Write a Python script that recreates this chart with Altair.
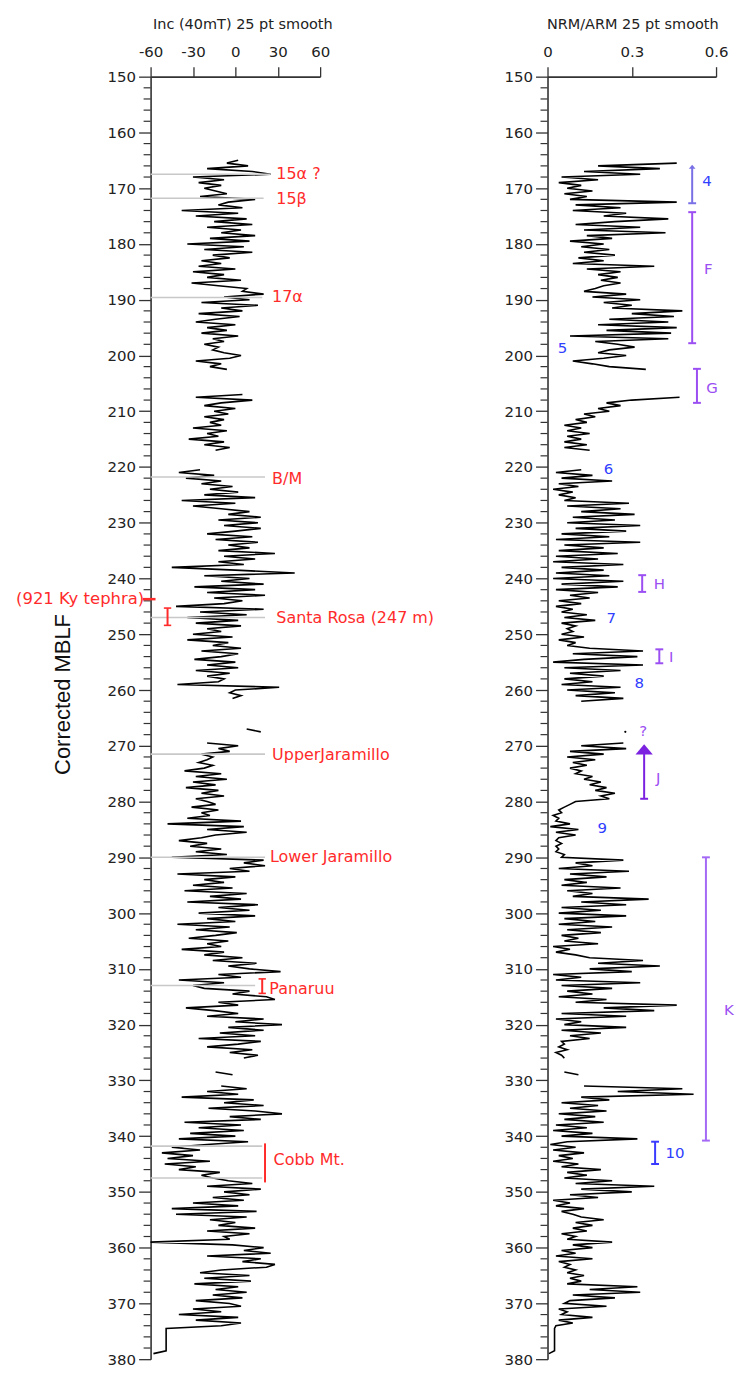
import altair as alt
import pandas as pd

FONT = "DejaVu Sans"
RED = "#ff2b2b"
BLUE = "#2f40ff"
PURPLE = "#9b4ff2"
STEP = 0.5  # sampling interval (m) inside each continuous core run

# ---------------- Inclination (40 mT), 25 pt smooth ----------------
inc_run_tops = [165.0, 207.0, 220.5, 267.0, 269.5, 328.5, 331.0]
inc_run_a = [2, -6, 9, -20, 12, 25, -30, -8, -26, -10,
             -22, -14, -6, -25, 14, -5, -12, 5, -38, 2,
             -28, 8, -15, 12, -20, 4, -10, 14, -18, 10,
             -34, 6, -22, 12, -16, -4, -24, -10, -26, 0,
             -30, -8, -20, 4, -31, -12, 8, 5, 20, -8,
             10, -24, 16, -10, 5, -26, 3, -14, -28, 0,
             -20, -6, -24, 2, -16, -8, -22, -12, -16, -8,
             4, -4, -28, -10, -18, -6]
inc_run_b = [5, -28, 12, -10, -22, 0, -15, -5, -22, -8, -18, -10, -30, -6,
             -20, -12, -33, -8, -22, -4, -14]
inc_run_c = [-25, -40, -15, -35, -10, -24, -2, -18, 2, -22,
             14, -38, 0, -30, -10, 10, -5, 18, -12, 16,
             -8, 18, 0, -20, 12, -14, 16, -5, 10, -12,
             28, -8, 14, -12, 6, -45, 0, 42, -22, 10,
             -10, 20, -29, 14, -20, 21, -15, 5, -8, -42,
             20, -25, 8, -34, 2, -28, 4, -20, -10, -30,
             -2, -34, -5, -16, 4, -24, 2, -10, -29, 0,
             -20, 2, -28, -4, -20, -8, -12, -41, 31, 0,
             -4, 4, -2]
inc_run_d = [8, 18]
inc_run_e = [-20, 2, -12, -4, -24, -16, -20, -26, -16, -22,
             -36, -10, -28, -6, -30, -14, -35, -12, -24, -8,
             -28, -20, -14, -31, -12, -24, -18, -34, 4, -48,
             6, -20, 8, -14, -24, -40, -20, -32, -10, -28,
             -6, -45, 20, 6, 21, -4, 10, -41, 0, -22,
             -8, -30, -2, -36, 8, -18, 4, -34, 16, -12,
             10, -26, 14, -20, 0, -41, -4, -28, 1, -14,
             -33, -5, -20, -10, -38, -8, -22, 5, -16, 15,
             -5, 10, 32, -12, 4, -40, -8, -30, -22, 10,
             -2, 22, 28, -12, 2, -35, -15, 2, -20, 20,
             0, 33, -5, 20, -11, 14, -26, 18, 2, -20,
             12, -4, 16, 6]
inc_run_f = [-14, -2]
inc_run_g = [-10, 8, -20, 2, -38, 13, -8, 20, -19, 14,
             33, -4, 18, -36, 4, -26, 6, -32, 0, -40,
             9, -20, -45, -25, -52, -30, -48, -18, -50, -28,
             -40, -11, -24, -16, -5, 12, -20, 18, -8, 10,
             -16, 6, -30, 2, -45, 15, -42, 8, -18, 0,
             -12, 14, -20, 10, -8, -4, -60, -2, 20, 6,
             25, -20, 18, 5, 28, 22, -10, -25, 10, -22,
             11, -29, 2, -14, 8, -16, 5, -28, -4, 4,
             -30, -10, -40, 2, -28, 4, -10, -49, -49, -49,
             -49, -49, -49, -49, -49, -49, -58]
inc_runs = [inc_run_a, inc_run_b, inc_run_c, inc_run_d, inc_run_e, inc_run_f, inc_run_g]

# ---------------- NRM/ARM, 25 pt smooth ----------------
nrm_run_tops = [165.5, 207.5, 220.5, 269.5, 328.5, 331.0]
nrm_run_a = [0.46, 0.18, 0.40, 0.13, 0.33, 0.05, 0.18, 0.04, 0.12, 0.07,
             0.16, 0.06, 0.14, 0.08, 0.46, 0.10, 0.26, 0.09, 0.28, 0.20,
             0.43, 0.24, 0.10, 0.33, 0.13, 0.42, 0.14, 0.23, 0.08, 0.20,
             0.12, 0.22, 0.13, 0.24, 0.11, 0.20, 0.09, 0.38, 0.14, 0.26,
             0.18, 0.25, 0.19, 0.26, 0.20, 0.17, 0.13, 0.28, 0.16, 0.33,
             0.20, 0.30, 0.23, 0.48, 0.30, 0.45, 0.22, 0.43, 0.18, 0.46,
             0.21, 0.44, 0.08, 0.43, 0.17, 0.25, 0.31, 0.22, 0.18, 0.28,
             0.20, 0.09, 0.16, 0.22, 0.35]
nrm_run_b = [0.47, 0.30, 0.21, 0.26, 0.18, 0.22, 0.13, 0.17, 0.10, 0.14,
             0.06, 0.12, 0.07, 0.15, 0.07, 0.12, 0.06, 0.14, 0.06, 0.15]
nrm_run_c = [0.12, 0.03, 0.16, 0.05, 0.23, 0.04, 0.11, 0.02, 0.09, 0.04,
             0.10, 0.06, 0.29, 0.07, 0.26, 0.12, 0.31, 0.09, 0.24, 0.07,
             0.33, 0.10, 0.28, 0.05, 0.22, 0.03, 0.33, 0.06, 0.20, 0.04,
             0.25, 0.03, 0.18, 0.02, 0.27, 0.05, 0.20, 0.03, 0.22, 0.02,
             0.27, 0.05, 0.25, 0.03, 0.18, 0.08, 0.15, 0.04, 0.12, 0.03,
             0.09, 0.05, 0.14, 0.06, 0.17, 0.05, 0.10, 0.07, 0.09, 0.05,
             0.13, 0.04, 0.10, 0.07, 0.15, 0.34, 0.09, 0.32, 0.13, 0.02,
             0.34, 0.06, 0.26, 0.08, 0.20, 0.06, 0.16, 0.05, 0.26, 0.07,
             0.24, 0.10, 0.27, 0.12]
nrm_run_e = [0.27, 0.12, 0.28, 0.08, 0.20, 0.07, 0.17, 0.09, 0.14, 0.08,
             0.12, 0.10, 0.16, 0.13, 0.19, 0.15, 0.21, 0.17, 0.24, 0.19,
             0.22, 0.10, 0.08, 0.06, 0.04, 0.05, 0.02, 0.04, 0.03, 0.08,
             0.01, 0.11, 0.03, 0.10, 0.04, 0.03, 0.05, 0.03, 0.04, 0.03,
             0.06, 0.05, 0.27, 0.10, 0.16, 0.04, 0.29, 0.08, 0.21, 0.06,
             0.14, 0.05, 0.26, 0.07, 0.16, 0.09, 0.36, 0.12, 0.28, 0.05,
             0.19, 0.04, 0.28, 0.06, 0.17, 0.04, 0.23, 0.07, 0.19, 0.05,
             0.11, 0.06, 0.18, 0.02, 0.08, 0.03, 0.10, 0.15, 0.34, 0.18,
             0.40, 0.15, 0.30, 0.02, 0.12, 0.03, 0.33, 0.05, 0.23, 0.07,
             0.16, 0.04, 0.21, 0.10, 0.46, 0.20, 0.38, 0.05, 0.28, 0.03,
             0.12, 0.06, 0.28, 0.05, 0.19, 0.08, 0.15, 0.05, 0.06, 0.04,
             0.07, 0.03, 0.05, 0.06]
nrm_run_f = [0.06, 0.11]
nrm_run_g = [0.13, 0.48, 0.25, 0.52, 0.12, 0.22, 0.05, 0.18, 0.08, 0.21,
             0.04, 0.17, 0.06, 0.20, 0.03, 0.14, 0.02, 0.16, 0.05, 0.32,
             0.07, 0.01, 0.10, 0.02, 0.13, 0.04, 0.09, 0.02, 0.11, 0.05,
             0.19, 0.07, 0.14, 0.06, 0.23, 0.10, 0.38, 0.12, 0.30, 0.08,
             0.18, 0.02, 0.08, 0.03, 0.13, 0.05, 0.09, 0.12, 0.20, 0.10,
             0.16, 0.09, 0.14, 0.05, 0.10, 0.07, 0.23, 0.09, 0.16, 0.05,
             0.10, 0.03, 0.16, 0.04, 0.08, 0.06, 0.10, 0.07, 0.13, 0.08,
             0.12, 0.07, 0.32, 0.15, 0.33, 0.09, 0.24, 0.08, 0.06, 0.21,
             0.04, 0.07, 0.05, 0.16, 0.04, 0.09, 0.03, 0.025, 0.025, 0.025,
             0.025, 0.025, 0.025, 0.025, 0.025, 0.025, 0.005]
nrm_runs = [nrm_run_a, nrm_run_b, nrm_run_c, nrm_run_e, nrm_run_f, nrm_run_g]
nrm_dot_depth = [267.5]
nrm_dot_value = [0.277]

# ---------------- Left-panel annotations ----------------
ref_depths = [167.5, 171.8, 189.6, 221.8, 247.0, 271.5, 290.0, 313.0, 341.8, 347.5]
ref_ends = [25, 20, 19, 21, 21, 21, 21, 14, 19, 19]
event_names = ["15\u03b1 ?", "15\u03b2", "17\u03b1", "B/M", "Santa Rosa (247 m)",
               "UpperJaramillo", "Lower Jaramillo", "Panaruu", "Cobb Mt."]
event_depths = [167.5, 172.0, 189.5, 222.2, 247.0, 271.7, 289.9, 313.6, 344.2]
event_x = [29, 29, 26, 26, 29, 26, 24.5, 24, 27]
tephra_name = ["(921 Ky tephra)"]
tephra_depth = [243.7]
red_bar_x = [-48, 19, 21]
red_bar_top = [245.3, 311.8, 341.3]
red_bar_bottom = [248.4, 314.4, 348.3]
red_bar_caps = [True, True, False]

# ---------------- Right-panel annotations ----------------
br_x = [0.515, 0.515, 0.532, 0.337, 0.398, 0.344, 0.564, 0.383]
br_top = [166.2, 174.3, 202.4, 239.4, 252.7, 270.8, 290.0, 341.0]
br_bottom = [172.7, 197.8, 208.5, 242.4, 255.2, 279.5, 340.8, 345.0]
br_color = ["#7a70e6", PURPLE, PURPLE, PURPLE, PURPLE, "#7b22e0", "#a46af6", "#3b3bff"]
br_arrow = [True, False, False, False, False, True, False, False]
arrow_size = [45, 300]
zone_text = ["4", "F", "5", "G", "6", "H", "7", "I", "8", "?", "J", "9", "K", "10"]
zone_x = [0.568, 0.572, 0.053, 0.586, 0.217, 0.398, 0.227, 0.440, 0.327, 0.341,
          0.394, 0.195, 0.646, 0.454]
zone_depth = [168.8, 184.5, 198.7, 205.8, 220.3, 240.9, 247.1, 254.0, 258.8, 267.4,
              275.8, 284.8, 317.4, 343.0]
zone_color = [BLUE, PURPLE, BLUE, PURPLE, BLUE, PURPLE, BLUE, PURPLE, BLUE, PURPLE,
              PURPLE, BLUE, PURPLE, BLUE]

major_ticks = list(range(150, 390, 10))
minor_ticks = [d for d in range(150, 381, 2) if d % 10 != 0]


def runs_frame(tops, runs):
    rows = []
    for k, (top, vals) in enumerate(zip(tops, runs)):
        for i, v in enumerate(vals):
            rows.append({"depth": top + STEP * i, "value": v, "run": k})
    return pd.DataFrame(rows)


inc_df = runs_frame(inc_run_tops, inc_runs)
nrm_df = runs_frame(nrm_run_tops, nrm_runs)

PLOT_W_L, PLOT_W_R, PLOT_H = 170, 169, 1286
y_scale = alt.Scale(domain=[150, 380], reverse=True, nice=False, zero=False)
xs_l = alt.Scale(domain=[-60, 60], nice=False, zero=False)
xs_r = alt.Scale(domain=[0, 0.6], nice=False, zero=False)


def y_axis(title):
    return alt.Axis(values=major_ticks, tickSize=12, tickColor="#333", tickWidth=1.3,
                    domainColor="#333", domainWidth=1.6, labelFont=FONT, labelFontSize=15,
                    labelColor="#222", labelPadding=3, grid=False, title=title,
                    titleFont="Liberation Sans", titleFontSize=22, titleFontWeight="normal",
                    titleColor="#111", titleX=-88, titleY=619, titleBaseline="middle")


def x_axis(values, title, title_x):
    return alt.Axis(orient="top", values=values, labelExpr="'' + datum.value",
                    tickSize=10, tickColor="#333", tickWidth=1.3, domainColor="#333",
                    domainWidth=1.6, labelFont=FONT, labelFontSize=15, labelColor="#222",
                    labelPadding=7, labelOverlap=False, labelFlush=False, grid=False,
                    title=title, titleFont=FONT, titleFontSize=14.5,
                    titleFontWeight="normal", titleColor="#222", titleX=title_x,
                    titleY=-52, titleBaseline="middle")


def Y(field):
    return alt.Y(field, type="quantitative", scale=y_scale)


def minor_tick_layer():
    return alt.Chart(pd.DataFrame({"d": minor_ticks})).mark_rule(
        color="#333", strokeWidth=1.2
    ).encode(y=Y("d"), x=alt.value(-7), x2=alt.value(0))


# ================= Left panel =================
def XL(field):
    return alt.X(field, type="quantitative", scale=xs_l)


inc_line = alt.Chart(inc_df).mark_line(color="black", strokeWidth=1.6).encode(
    x=alt.X("value:Q", scale=xs_l, axis=x_axis([-60, -30, 0, 30, 60],
                                                  "Inc (40mT) 25 pt smooth", 92)),
    y=alt.Y("depth:Q", scale=y_scale, axis=y_axis("Corrected MBLF")),
    detail="run:N", order="depth:Q")

ref_df = pd.DataFrame({"d": ref_depths, "x0": [-60] * len(ref_depths), "x1": ref_ends})
ref_lines = alt.Chart(ref_df).mark_rule(color="#c8c8c8", strokeWidth=1.6).encode(
    y=Y("d"), x=XL("x0"), x2="x1:Q")

ev_df = pd.DataFrame({"t": event_names, "d": event_depths, "x": event_x})
ev_text = alt.Chart(ev_df).mark_text(align="left", baseline="middle", font=FONT,
                                      fontSize=16, color=RED).encode(
    x=XL("x"), y=Y("d"), text="t:N")

teph_df = pd.DataFrame({"t": tephra_name, "d": tephra_depth, "x": [-64.5],
                        "a": [-65.5], "b": [-56.5]})
teph_text = alt.Chart(teph_df).mark_text(align="right", baseline="middle", font=FONT,
                                          fontSize=16.5, color=RED).encode(
    x=XL("x"), y=Y("d"), text="t:N")
teph_dash = alt.Chart(teph_df).mark_rule(color=RED, strokeWidth=2.5).encode(
    x=XL("a"), x2="b:Q", y=Y("d"))

rb_df = pd.DataFrame({"x": red_bar_x, "t": red_bar_top, "b": red_bar_bottom})
red_bars = alt.Chart(rb_df).mark_rule(color=RED, strokeWidth=2).encode(
    x=XL("x"), y=Y("t"), y2="b:Q")
cap_rows = []
for x, t, b, c in zip(red_bar_x, red_bar_top, red_bar_bottom, red_bar_caps):
    if c:
        cap_rows += [{"d": t, "a": x - 2.6, "b": x + 2.6}, {"d": b, "a": x - 2.6, "b": x + 2.6}]
red_caps = alt.Chart(pd.DataFrame(cap_rows)).mark_rule(color=RED, strokeWidth=1.6).encode(
    x=XL("a"), x2="b:Q", y=Y("d"))

anchor_df = pd.DataFrame({"k": [0]})
left_anchor = alt.Chart(anchor_df).mark_point(opacity=0, size=1).encode(
    x=alt.value(-150), y=alt.value(-74))

left = alt.layer(inc_line, minor_tick_layer(), ref_lines, ev_text, teph_text, teph_dash,
                 red_bars, red_caps, left_anchor).properties(width=PLOT_W_L, height=PLOT_H)


# ================= Right panel =================
def XR(field):
    return alt.X(field, type="quantitative", scale=xs_r)


nrm_line = alt.Chart(nrm_df).mark_line(color="black", strokeWidth=1.6).encode(
    x=alt.X("value:Q", scale=xs_r, axis=x_axis([0, 0.3, 0.6], "NRM/ARM 25 pt smooth", 85)),
    y=alt.Y("depth:Q", scale=y_scale, axis=y_axis(None)),
    detail="run:N", order="depth:Q")

dot = alt.Chart(pd.DataFrame({"d": nrm_dot_depth, "v": nrm_dot_value})).mark_point(
    filled=True, color="black", size=5, opacity=1).encode(x=XR("v"), y=Y("d"))

br_df = pd.DataFrame({"x": br_x, "t": br_top, "b": br_bottom, "c": br_color})
brackets = alt.Chart(br_df).mark_rule(strokeWidth=2).encode(
    x=XR("x"), y=Y("t"), y2="b:Q", color=alt.Color("c:N", scale=None))
bcap_rows = []
for x, t, b, c, arrow in zip(br_x, br_top, br_bottom, br_color, br_arrow):
    bcap_rows.append({"d": b, "a": x - 0.014, "b": x + 0.014, "c": c})
    if not arrow:
        bcap_rows.append({"d": t, "a": x - 0.014, "b": x + 0.014, "c": c})
br_caps = alt.Chart(pd.DataFrame(bcap_rows)).mark_rule(strokeWidth=2).encode(
    x=XR("a"), x2="b:Q", y=Y("d"), color=alt.Color("c:N", scale=None))

arrow_df = pd.DataFrame({
    "x": [x for x, a in zip(br_x, br_arrow) if a],
    "d": [t for t, a in zip(br_top, br_arrow) if a],
    "c": [c for c, a in zip(br_color, br_arrow) if a],
    "s": arrow_size})
arrows = alt.Chart(arrow_df).mark_point(filled=True, opacity=1,
                                         shape="M0,-0.7L1,0.5L-1,0.5Z").encode(
    x=XR("x"), y=Y("d"), color=alt.Color("c:N", scale=None),
    size=alt.Size("s:Q", scale=None))

zone_df = pd.DataFrame({"t": zone_text, "x": zone_x, "d": zone_depth, "c": zone_color})
zone_labels = alt.Chart(zone_df).mark_text(align="center", baseline="middle", font=FONT,
                                            fontSize=15).encode(
    x=XR("x"), y=Y("d"), text="t:N", color=alt.Color("c:N", scale=None))

right_anchor = alt.Chart(anchor_df).mark_point(opacity=0, size=1).encode(
    x=alt.value(PLOT_W_R + 19), y=alt.value(PLOT_H + 16))

right = alt.layer(nrm_line, minor_tick_layer(), dot, brackets, br_caps, arrows,
                  zone_labels, right_anchor).properties(width=PLOT_W_R, height=PLOT_H)

chart = alt.hconcat(left, right, spacing=228, bounds="flush").properties(
    padding=0).configure_view(stroke=None)

chart.save("out.html", embed_options={"renderer": "svg", "actions": False})
